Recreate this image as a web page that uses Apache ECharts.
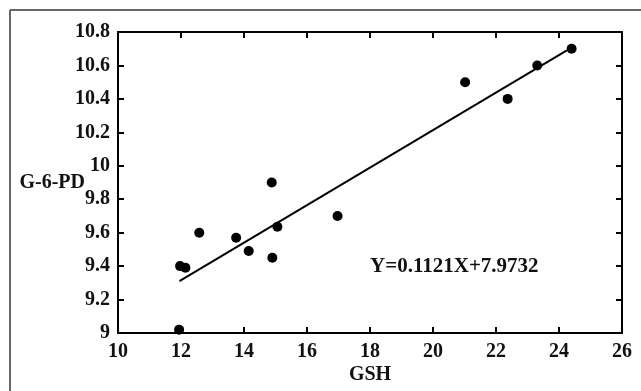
<!DOCTYPE html>
<html><head><meta charset="utf-8">
<script src="https://cdn.jsdelivr.net/npm/echarts@6/dist/echarts.min.js"></script>
<style>html,body{margin:0;padding:0;background:#fff}#c{width:641px;height:391px}</style>
</head><body><div id="c"></div>
<script>
var gshValues = [11.94, 11.97, 12.14, 12.58, 13.75, 14.15, 14.88, 14.90, 15.06, 16.97, 21.02, 22.37, 23.31, 24.40];
var g6pdValues = [9.02, 9.40, 9.39, 9.60, 9.57, 9.49, 9.90, 9.45, 9.635, 9.70, 10.50, 10.40, 10.60, 10.70];
var fitLineX = [11.95, 24.25];
var fitLineY = [9.31, 10.69];
var xTicks = [10, 12, 14, 16, 18, 20, 22, 24, 26];
var yTicks = [9, 9.2, 9.4, 9.6, 9.8, 10, 10.2, 10.4, 10.6, 10.8];
var equationText = 'Y=0.1121X+7.9732';
var xName = 'GSH', yName = 'G-6-PD';

var font = 'Liberation Serif';
var fw = 'bold';
var pts = gshValues.map(function(x, i){ return [x, g6pdValues[i]]; });
var fit = fitLineX.map(function(x, i){ return [x, fitLineY[i]]; });

var axisLineStyle = {color: '#000', width: 2};
var chart = echarts.init(document.getElementById('c'));
chart.setOption({
  animation: false,
  grid: {left: 118, top: 32, right: 19, bottom: 58},
  xAxis: [{
    type: 'value', min: xTicks[0], max: xTicks[xTicks.length-1], interval: 2,
    name: xName, nameLocation: 'middle', nameGap: 32, nameMoveOverlap: false,
    nameTextStyle: {fontFamily: font, fontSize: 20, fontWeight: fw, color: '#111'},
    axisLine: {show: true, onZero: false, lineStyle: axisLineStyle},
    axisTick: {show: true, inside: true, length: 6, lineStyle: axisLineStyle},
    axisLabel: {fontFamily: font, fontSize: 20, fontWeight: fw, color: '#111', margin: 9},
    splitLine: {show: false}
  }, {
    type: 'value', position: 'top', min: xTicks[0], max: xTicks[xTicks.length-1], interval: 2,
    axisLine: {show: true, onZero: false, lineStyle: axisLineStyle},
    axisTick: {show: true, inside: true, length: 6, lineStyle: axisLineStyle},
    axisLabel: {show: false}, splitLine: {show: false}
  }],
  yAxis: [{
    type: 'value', min: yTicks[0], max: yTicks[yTicks.length-1], interval: 0.2,
    name: yName, nameLocation: 'middle', nameRotate: 0, nameGap: 33, nameMoveOverlap: false,
    nameTextStyle: {fontFamily: font, fontSize: 20, fontWeight: fw, color: '#111', align: 'right', padding: [0, 0, 4, 0]},
    axisLine: {show: true, onZero: false, lineStyle: axisLineStyle},
    axisTick: {show: true, inside: true, length: 6, lineStyle: axisLineStyle},
    axisLabel: {fontFamily: font, fontSize: 20, fontWeight: fw, color: '#111', margin: 8,
      formatter: function(v){ return String(Math.round(v*10)/10); }},
    splitLine: {show: false}
  }, {
    type: 'value', position: 'right', min: yTicks[0], max: yTicks[yTicks.length-1], interval: 0.2,
    axisLine: {show: true, onZero: false, lineStyle: axisLineStyle},
    axisTick: {show: true, inside: true, length: 6, lineStyle: axisLineStyle},
    axisLabel: {show: false}, splitLine: {show: false}
  }],
  series: [{
    type: 'line', data: fit, symbol: 'none',
    lineStyle: {color: '#000', width: 2}, silent: true, z: 2
  }, {
    type: 'scatter', data: pts, symbol: 'circle', symbolSize: 10,
    itemStyle: {color: '#000', opacity: 1}, z: 3
  }],
  graphic: [
    {type: 'line', shape: {x1: 10, y1: 10, x2: 641, y2: 10}, style: {stroke: '#666', lineWidth: 2}},
    {type: 'line', shape: {x1: 10, y1: 10, x2: 10, y2: 391}, style: {stroke: '#666', lineWidth: 2}},
    {type: 'text', left: 370, top: 256, style: {text: equationText, font: 'bold 21px "Liberation Serif"', fill: '#111'}}
  ]
});
</script></body></html>
